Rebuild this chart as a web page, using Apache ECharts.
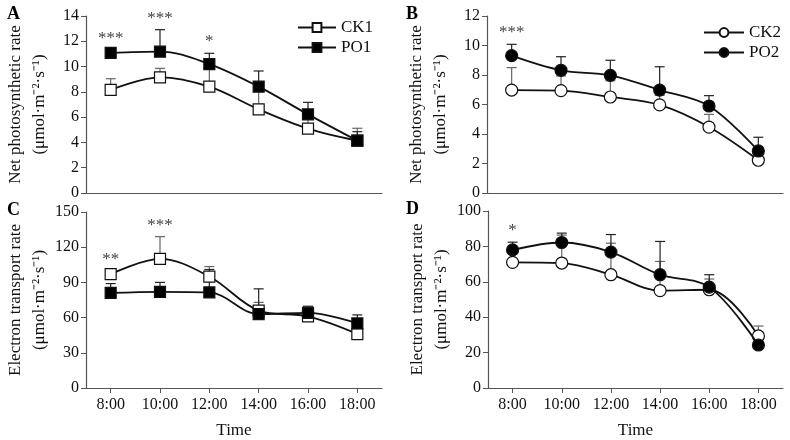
<!DOCTYPE html>
<html>
<head>
<meta charset="utf-8">
<script src="https://cdn.jsdelivr.net/npm/echarts@6/dist/echarts.min.js"></script>
<style>
  html, body { margin: 0; padding: 0; background: #fff; }
  #chart { width: 790px; height: 440px; }
</style>
</head>
<body>
<div id="chart"></div>
<script>
// 时间点 (h)
var hours = [8, 10, 12, 14, 16, 18];
var timeLabels = ['8:00', '10:00', '12:00', '14:00', '16:00', '18:00'];

// A: Pn, CK1 / PO1
var ck1Pn = [8.15, 9.15, 8.41, 6.62, 5.09, 4.14];
var ck1PnSd = [0.89, 0.71, 1.7, 1.7, 0.74, 0.98];
var po1Pn = [11.08, 11.18, 10.2, 8.41, 6.22, 4.14];
var po1PnSd = [0.2, 1.74, 0.85, 1.24, 0.95, 0.71];

// B: Pn, CK2 / PO2
var ck2Pn = [6.98, 6.94, 6.51, 5.97, 4.47, 2.22];
var ck2PnSd = [1.52, 1.0, 1.1, 0.65, 0.86, 0.35];
var po2Pn = [9.31, 8.32, 7.98, 6.98, 5.9, 2.85];
var po2PnSd = [0.77, 0.92, 1.02, 1.58, 0.7, 0.93];

// C: ETR, CK1 / PO1
var ck1Etr = [97, 110, 95, 66, 61, 46];
var ck1EtrSd = [3, 19, 8.5, 7, 3, 2];
var po1Etr = [81, 82, 81.5, 63, 64, 55];
var po1EtrSd = [8, 8, 19.5, 21.5, 5.7, 7.3];

// D: ETR, CK2 / PO2
var ck2Etr = [71, 70.6, 64, 55, 55.5, 29.4];
var ck2EtrSd = [1, 15.8, 17.8, 16.5, 6.1, 5.6];
var po2Etr = [78, 82.2, 76.8, 64, 57, 24.3];
var po2EtrSd = [4.4, 5.3, 9.9, 18.8, 7, 0.5];

// 显著性标记
var starsA = [[8, '***'], [10, '***'], [12, '*']];
var starsB = [[8, '***']];
var starsC = [[8, '**'], [10, '***']];
var starsD = [[8, '*']];

var FONT = 'Liberation Serif, Times New Roman, serif';
var pnName = 'Net photosynthetic rate\n(\u03bcmol\u00b7m\u207b\u00b2\u00b7s\u207b\u00b9)';
var etrName = 'Electron transport rate\n(\u03bcmol\u00b7m\u207b\u00b2\u00b7s\u207b\u00b9)';

var myChart = echarts.init(document.getElementById('chart'));

function xAxisOf(gi, showLabels) {
    return {
        type: 'value', gridIndex: gi, min: 7, max: 19,
        name: showLabels ? 'Time' : '',
        nameLocation: 'middle', nameGap: 34,
        nameTextStyle: { fontFamily: FONT, fontSize: 17, color: '#111' },
        splitLine: { show: false },
        axisLine: { show: true, lineStyle: { color: '#555', width: 1.2 } },
        axisTick: { show: showLabels, length: 5, customValues: hours, lineStyle: { color: '#555' } },
        axisLabel: {
            show: showLabels, customValues: hours, margin: 9,
            fontFamily: FONT, fontSize: 16, color: '#111',
            formatter: function (v) { return timeLabels[hours.indexOf(v)]; }
        }
    };
}

function yAxisOf(gi, max, interval, name) {
    return {
        type: 'value', gridIndex: gi, min: 0, max: max, interval: interval,
        name: name, nameLocation: 'middle', nameRotate: 90, nameGap: 34,
        nameTextStyle: { fontFamily: FONT, fontSize: 17, color: '#111', lineHeight: 24 },
        splitLine: { show: false },
        axisLine: { show: true, lineStyle: { color: '#555', width: 1.2 } },
        axisTick: { show: true, length: 5, lineStyle: { color: '#555' } },
        axisLabel: { margin: 7, fontFamily: FONT, fontSize: 16, color: '#111' }
    };
}

function lineSeries(gi, name, vals, symbol, filled) {
    return {
        type: 'line', name: name, xAxisIndex: gi, yAxisIndex: gi,
        data: hours.map(function (h, i) { return [h, vals[i]]; }),
        smooth: 0.35, symbol: symbol, symbolSize: symbol === 'circle' ? 12 : 11,
        showSymbol: true, z: filled ? 4 : 3,
        lineStyle: { color: '#111', width: 1.8 },
        itemStyle: { color: filled ? '#000' : '#fff', borderColor: '#111', borderWidth: 1.2, opacity: 1 }
    };
}

function errSeries(gi, vals, sd, color) {
    return {
        type: 'custom', xAxisIndex: gi, yAxisIndex: gi, z: 2, silent: true,
        data: hours.map(function (h, i) { return [h, vals[i], vals[i] + sd[i]]; }),
        renderItem: function (params, api) {
            var p0 = api.coord([api.value(0), api.value(1)]);
            var p1 = api.coord([api.value(0), api.value(2)]);
            var st = { stroke: color, lineWidth: 1.2 };
            return {
                type: 'group', children: [
                    { type: 'line', shape: { x1: p0[0], y1: p0[1], x2: p1[0], y2: p1[1] }, style: st },
                    { type: 'line', shape: { x1: p1[0] - 5, y1: p1[1], x2: p1[0] + 5, y2: p1[1] }, style: st }
                ]
            };
        }
    };
}

function starSeries(gi, stars, groups) {
    return {
        type: 'custom', xAxisIndex: gi, yAxisIndex: gi, z: 5, silent: true,
        data: stars.map(function (s) {
            var i = hours.indexOf(s[0]);
            var top = Math.max.apply(null, groups.map(function (g) { return g[0][i] + g[1][i]; }));
            return [s[0], top, s[1]];
        }),
        renderItem: function (params, api) {
            var p = api.coord([api.value(0), api.value(1)]);
            return {
                type: 'text', x: p[0], y: p[1] - 3,
                style: {
                    text: stars[params.dataIndex][1], fill: '#444',
                    font: '17px ' + FONT, align: 'center', verticalAlign: 'bottom'
                }
            };
        }
    };
}

var series = [].concat(
    errSeries(0, ck1Pn, ck1PnSd, '#666'), errSeries(0, po1Pn, po1PnSd, '#222'),
    lineSeries(0, 'CK1', ck1Pn, 'rect', false), lineSeries(0, 'PO1', po1Pn, 'rect', true),
    starSeries(0, starsA, [[ck1Pn, ck1PnSd], [po1Pn, po1PnSd]]),

    errSeries(1, ck2Pn, ck2PnSd, '#666'), errSeries(1, po2Pn, po2PnSd, '#222'),
    lineSeries(1, 'CK2', ck2Pn, 'circle', false), lineSeries(1, 'PO2', po2Pn, 'circle', true),
    starSeries(1, starsB, [[ck2Pn, ck2PnSd], [po2Pn, po2PnSd]]),

    errSeries(2, ck1Etr, ck1EtrSd, '#666'), errSeries(2, po1Etr, po1EtrSd, '#222'),
    lineSeries(2, 'CK1', ck1Etr, 'rect', false), lineSeries(2, 'PO1', po1Etr, 'rect', true),
    starSeries(2, starsC, [[ck1Etr, ck1EtrSd], [po1Etr, po1EtrSd]]),

    errSeries(3, ck2Etr, ck2EtrSd, '#666'), errSeries(3, po2Etr, po2EtrSd, '#222'),
    lineSeries(3, 'CK2', ck2Etr, 'circle', false), lineSeries(3, 'PO2', po2Etr, 'circle', true),
    starSeries(3, starsD, [[ck2Etr, ck2EtrSd], [po2Etr, po2EtrSd]])
);

function panelLetter(t, x, y) {
    return { type: 'text', left: x, top: y, style: { text: t, font: 'bold 18px ' + FONT, fill: '#000' } };
}

myChart.setOption({
    animation: false,
    backgroundColor: '#fff',
    grid: [
        { left: 86, right: 408, top: 16, bottom: 247 },
        { left: 487, right: 7, top: 16, bottom: 247 },
        { left: 86, right: 408, top: 212, bottom: 51 },
        { left: 488, right: 7, top: 211, bottom: 51 }
    ],
    xAxis: [xAxisOf(0, false), xAxisOf(1, false), xAxisOf(2, true), xAxisOf(3, true)],
    yAxis: [
        yAxisOf(0, 14, 2, pnName), yAxisOf(1, 12, 2, pnName),
        yAxisOf(2, 150, 30, etrName), yAxisOf(3, 100, 20, etrName)
    ],
    legend: [
        {
            data: ['CK1', 'PO1'], orient: 'vertical', left: 292, top: 14,
            itemWidth: 38, itemHeight: 11, itemGap: 3,
            textStyle: { fontFamily: FONT, fontSize: 17, color: '#111' }
        },
        {
            data: ['CK2', 'PO2'], orient: 'vertical', left: 698, top: 19,
            itemWidth: 40, itemHeight: 11, itemGap: 3,
            textStyle: { fontFamily: FONT, fontSize: 17, color: '#111' }
        }
    ],
    graphic: [
        panelLetter('A', 7, 5), panelLetter('B', 406, 5),
        panelLetter('C', 7, 201), panelLetter('D', 406, 200)
    ],
    series: series
});
</script>
</body>
</html>
